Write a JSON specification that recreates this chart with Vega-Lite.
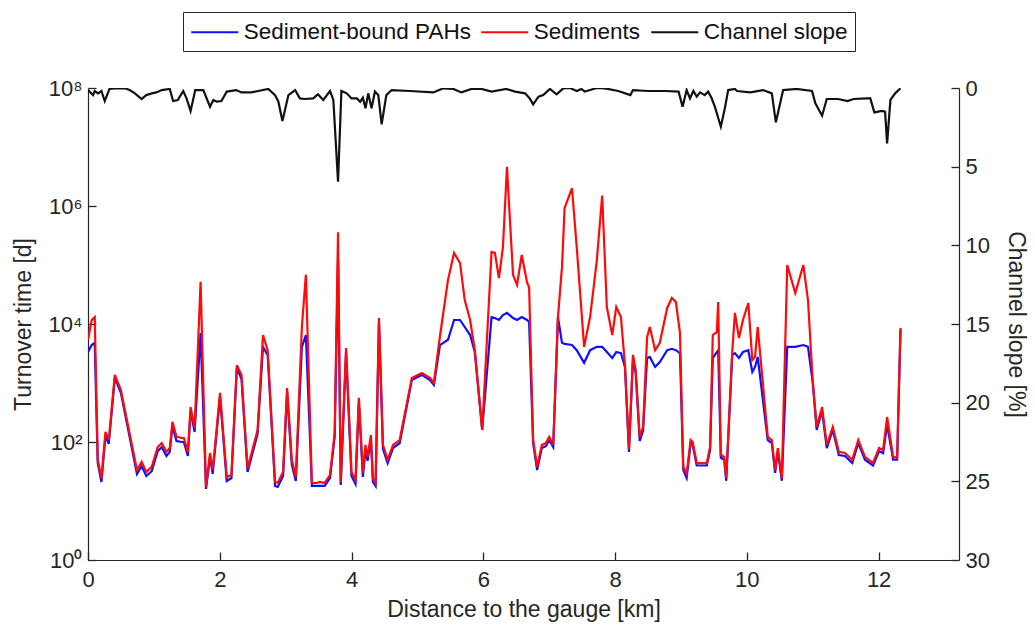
{
  "$schema": "https://vega.github.io/schema/vega-lite/v6.json",
  "width": 871,
  "height": 472,
  "autosize": {"type": "none"},
  "padding": {"left": 88, "top": 88, "right": 76, "bottom": 73},
  "background": "white",
  "config": {
    "font": "Liberation Sans",
    "view": {"stroke": null},
    "axis": {"domainColor": "#262626", "tickColor": "#262626", "labelColor": "#262626", "titleColor": "#262626", "grid": false, "labelFont": "Liberation Sans", "titleFont": "Liberation Sans", "titleFontWeight": "normal", "tickWidth": 1.3}
  },
  "datasets": {
    "turnover": [
      {"x": 0, "pah": 3350, "sed": 5400},
      {"x": 0.056, "pah": 4400, "sed": 11700},
      {"x": 0.102, "pah": 4800, "sed": 13100},
      {"x": 0.148, "pah": 44, "sed": 50},
      {"x": 0.204, "pah": 21, "sed": 24.5},
      {"x": 0.265, "pah": 126, "sed": 148},
      {"x": 0.315, "pah": 93, "sed": 108},
      {"x": 0.407, "pah": 1220, "sed": 1370},
      {"x": 0.499, "pah": 680, "sed": 760},
      {"x": 0.743, "pah": 28.7, "sed": 33.5},
      {"x": 0.814, "pah": 39, "sed": 46},
      {"x": 0.885, "pah": 26.5, "sed": 31},
      {"x": 0.967, "pah": 32, "sed": 38},
      {"x": 1.058, "pah": 70, "sed": 82},
      {"x": 1.119, "pah": 82, "sed": 96},
      {"x": 1.190, "pah": 58, "sed": 68},
      {"x": 1.241, "pah": 68, "sed": 79},
      {"x": 1.282, "pah": 187, "sed": 220},
      {"x": 1.343, "pah": 104, "sed": 122},
      {"x": 1.425, "pah": 100, "sed": 117},
      {"x": 1.455, "pah": 100, "sed": 117},
      {"x": 1.516, "pah": 58, "sed": 68},
      {"x": 1.557, "pah": 335, "sed": 390},
      {"x": 1.618, "pah": 148, "sed": 173},
      {"x": 1.709, "pah": 7000, "sed": 52000},
      {"x": 1.791, "pah": 16, "sed": 17.3},
      {"x": 1.852, "pah": 56, "sed": 65},
      {"x": 1.893, "pah": 28.7, "sed": 33.5},
      {"x": 2.004, "pah": 580, "sed": 680},
      {"x": 2.106, "pah": 21.8, "sed": 25.5},
      {"x": 2.177, "pah": 24.5, "sed": 27.6},
      {"x": 2.259, "pah": 1800, "sed": 2000},
      {"x": 2.330, "pah": 1170, "sed": 1370},
      {"x": 2.422, "pah": 31, "sed": 36},
      {"x": 2.574, "pah": 137, "sed": 160},
      {"x": 2.656, "pah": 4100, "sed": 6500},
      {"x": 2.727, "pah": 3000, "sed": 3600},
      {"x": 2.839, "pah": 18, "sed": 21},
      {"x": 2.880, "pah": 17.3, "sed": 20.2},
      {"x": 2.961, "pah": 26.5, "sed": 31},
      {"x": 3.022, "pah": 700, "sed": 820},
      {"x": 3.093, "pah": 42, "sed": 50},
      {"x": 3.154, "pah": 21.8, "sed": 25.5},
      {"x": 3.246, "pah": 4100, "sed": 8900},
      {"x": 3.307, "pah": 6500, "sed": 68000},
      {"x": 3.398, "pah": 18, "sed": 20.2},
      {"x": 3.470, "pah": 18, "sed": 20.2},
      {"x": 3.521, "pah": 18, "sed": 21},
      {"x": 3.592, "pah": 18, "sed": 20.2},
      {"x": 3.673, "pah": 24.5, "sed": 27.6},
      {"x": 3.744, "pah": 122, "sed": 142},
      {"x": 3.795, "pah": 120000, "sed": 360000},
      {"x": 3.836, "pah": 18.7, "sed": 21},
      {"x": 3.917, "pah": 3350, "sed": 3900},
      {"x": 3.999, "pah": 26.5, "sed": 31},
      {"x": 4.060, "pah": 19.4, "sed": 22.7},
      {"x": 4.111, "pah": 476, "sed": 560},
      {"x": 4.172, "pah": 25.5, "sed": 30},
      {"x": 4.212, "pah": 76, "sed": 89},
      {"x": 4.243, "pah": 48, "sed": 56},
      {"x": 4.294, "pah": 112, "sed": 131},
      {"x": 4.324, "pah": 21, "sed": 24.5},
      {"x": 4.365, "pah": 18, "sed": 20.2},
      {"x": 4.416, "pah": 10800, "sed": 12600},
      {"x": 4.477, "pah": 76, "sed": 89},
      {"x": 4.548, "pah": 44, "sed": 50},
      {"x": 4.630, "pah": 79, "sed": 89},
      {"x": 4.731, "pah": 96, "sed": 108},
      {"x": 4.915, "pah": 1120, "sed": 1220},
      {"x": 5.067, "pah": 1370, "sed": 1480},
      {"x": 5.189, "pah": 1120, "sed": 1220},
      {"x": 5.250, "pah": 925, "sed": 1000},
      {"x": 5.342, "pah": 4400, "sed": 6200},
      {"x": 5.464, "pah": 5400, "sed": 56000},
      {"x": 5.556, "pah": 11700, "sed": 160000},
      {"x": 5.647, "pah": 11700, "sed": 108000},
      {"x": 5.718, "pah": 8900, "sed": 25500},
      {"x": 5.800, "pah": 6500, "sed": 11700},
      {"x": 5.871, "pah": 3350, "sed": 3600},
      {"x": 5.983, "pah": 160, "sed": 160},
      {"x": 6.125, "pah": 13100, "sed": 166000},
      {"x": 6.176, "pah": 12600, "sed": 160000},
      {"x": 6.237, "pah": 11700, "sed": 60000},
      {"x": 6.298, "pah": 14200, "sed": 200000},
      {"x": 6.359, "pah": 15400, "sed": 4600000},
      {"x": 6.451, "pah": 12600, "sed": 68000},
      {"x": 6.512, "pah": 11700, "sed": 46000},
      {"x": 6.583, "pah": 13100, "sed": 148000},
      {"x": 6.665, "pah": 11700, "sed": 50000},
      {"x": 6.695, "pah": 10800, "sed": 42000},
      {"x": 6.756, "pah": 96, "sed": 108},
      {"x": 6.817, "pah": 33.5, "sed": 38},
      {"x": 6.888, "pah": 79, "sed": 89},
      {"x": 6.950, "pah": 85, "sed": 96},
      {"x": 7.000, "pah": 108, "sed": 122},
      {"x": 7.061, "pah": 82, "sed": 89},
      {"x": 7.133, "pah": 13100, "sed": 13100},
      {"x": 7.194, "pah": 4800, "sed": 92000},
      {"x": 7.234, "pah": 4600, "sed": 930000},
      {"x": 7.346, "pah": 4400, "sed": 2000000},
      {"x": 7.418, "pah": 3600, "sed": 200000},
      {"x": 7.530, "pah": 2200, "sed": 4100},
      {"x": 7.621, "pah": 3600, "sed": 13100},
      {"x": 7.723, "pah": 4100, "sed": 120000},
      {"x": 7.804, "pah": 4100, "sed": 1500000},
      {"x": 7.875, "pah": 3350, "sed": 19400},
      {"x": 7.957, "pah": 2650, "sed": 6500},
      {"x": 8.018, "pah": 3350, "sed": 19400},
      {"x": 8.089, "pah": 3200, "sed": 13100},
      {"x": 8.150, "pah": 1870, "sed": 2000},
      {"x": 8.211, "pah": 68, "sed": 76},
      {"x": 8.272, "pah": 2650, "sed": 3000},
      {"x": 8.313, "pah": 1480, "sed": 1660},
      {"x": 8.374, "pah": 104, "sed": 122},
      {"x": 8.425, "pah": 155, "sed": 180},
      {"x": 8.486, "pah": 2650, "sed": 6000},
      {"x": 8.527, "pah": 2760, "sed": 8900},
      {"x": 8.608, "pah": 1870, "sed": 3600},
      {"x": 8.679, "pah": 2270, "sed": 4800},
      {"x": 8.791, "pah": 3600, "sed": 18700},
      {"x": 8.862, "pah": 3800, "sed": 27600},
      {"x": 8.923, "pah": 3600, "sed": 23600},
      {"x": 8.985, "pah": 3200, "sed": 7000},
      {"x": 9.035, "pah": 33.5, "sed": 38},
      {"x": 9.086, "pah": 24.5, "sed": 29},
      {"x": 9.147, "pah": 96, "sed": 108},
      {"x": 9.178, "pah": 89, "sed": 100},
      {"x": 9.239, "pah": 40, "sed": 44},
      {"x": 9.392, "pah": 40, "sed": 44},
      {"x": 9.442, "pah": 73, "sed": 82},
      {"x": 9.483, "pah": 2650, "sed": 6500},
      {"x": 9.544, "pah": 3350, "sed": 7300},
      {"x": 9.565, "pah": 3600, "sed": 23600},
      {"x": 9.605, "pah": 54, "sed": 60},
      {"x": 9.656, "pah": 50, "sed": 56},
      {"x": 9.687, "pah": 22, "sed": 24.5},
      {"x": 9.778, "pah": 3000, "sed": 3350},
      {"x": 9.819, "pah": 3200, "sed": 15400},
      {"x": 9.880, "pah": 2650, "sed": 5800},
      {"x": 9.941, "pah": 3350, "sed": 11700},
      {"x": 10.022, "pah": 3600, "sed": 22700},
      {"x": 10.083, "pah": 1540, "sed": 2450},
      {"x": 10.124, "pah": 1870, "sed": 2760},
      {"x": 10.165, "pah": 2760, "sed": 8900},
      {"x": 10.317, "pah": 108, "sed": 122},
      {"x": 10.379, "pah": 96, "sed": 108},
      {"x": 10.429, "pah": 30, "sed": 33.5},
      {"x": 10.470, "pah": 70, "sed": 79},
      {"x": 10.531, "pah": 22, "sed": 24.5},
      {"x": 10.613, "pah": 4100, "sed": 100000},
      {"x": 10.735, "pah": 4100, "sed": 33500},
      {"x": 10.857, "pah": 4400, "sed": 100000},
      {"x": 10.928, "pah": 4100, "sed": 25500},
      {"x": 10.999, "pah": 1040, "sed": 1120},
      {"x": 11.060, "pah": 160, "sed": 180},
      {"x": 11.142, "pah": 335, "sed": 390},
      {"x": 11.213, "pah": 79, "sed": 89},
      {"x": 11.304, "pah": 160, "sed": 180},
      {"x": 11.396, "pah": 60, "sed": 68},
      {"x": 11.488, "pah": 58, "sed": 65},
      {"x": 11.600, "pah": 44, "sed": 50},
      {"x": 11.691, "pah": 96, "sed": 108},
      {"x": 11.793, "pah": 50, "sed": 56},
      {"x": 11.915, "pah": 40, "sed": 44},
      {"x": 12.007, "pah": 70, "sed": 79},
      {"x": 12.068, "pah": 65, "sed": 73},
      {"x": 12.129, "pah": 195, "sed": 265},
      {"x": 12.220, "pah": 50, "sed": 56},
      {"x": 12.281, "pah": 50, "sed": 54},
      {"x": 12.332, "pah": 8000, "sed": 8600}
    ],
    "slope": [
      {"x": 0, "slope": 0.13}, {"x": 0.076, "slope": 0.45}, {"x": 0.102, "slope": 0.19}, {"x": 0.153, "slope": 0.34},
      {"x": 0.204, "slope": 0.19}, {"x": 0.254, "slope": 0.83}, {"x": 0.326, "slope": 0.06}, {"x": 0.407, "slope": 0.02},
      {"x": 0.560, "slope": 0.02}, {"x": 0.631, "slope": 0.13}, {"x": 0.712, "slope": 0.34}, {"x": 0.814, "slope": 0.70},
      {"x": 0.885, "slope": 0.45}, {"x": 0.967, "slope": 0.34}, {"x": 1.038, "slope": 0.28}, {"x": 1.119, "slope": 0.13},
      {"x": 1.241, "slope": 0.06}, {"x": 1.292, "slope": 0.83}, {"x": 1.363, "slope": 0.76}, {"x": 1.445, "slope": 0.19},
      {"x": 1.496, "slope": 0.66}, {"x": 1.557, "slope": 1.46}, {"x": 1.628, "slope": 0.13}, {"x": 1.750, "slope": 0.13},
      {"x": 1.852, "slope": 1.19}, {"x": 1.903, "slope": 0.76}, {"x": 1.954, "slope": 0.87}, {"x": 2.025, "slope": 0.83},
      {"x": 2.106, "slope": 0.23}, {"x": 2.249, "slope": 0.13}, {"x": 2.330, "slope": 0.28}, {"x": 2.483, "slope": 0.28},
      {"x": 2.584, "slope": 0.19}, {"x": 2.737, "slope": 0.06}, {"x": 2.839, "slope": 0.45}, {"x": 2.890, "slope": 0.87},
      {"x": 2.951, "slope": 2.1}, {"x": 3.042, "slope": 0.45}, {"x": 3.144, "slope": 0.13}, {"x": 3.215, "slope": 0.66},
      {"x": 3.287, "slope": 0.70}, {"x": 3.419, "slope": 0.66}, {"x": 3.490, "slope": 0.40}, {"x": 3.571, "slope": 0.76},
      {"x": 3.673, "slope": 0.19}, {"x": 3.724, "slope": 0.76}, {"x": 3.795, "slope": 5.96}, {"x": 3.846, "slope": 0.19},
      {"x": 3.928, "slope": 0.34}, {"x": 3.999, "slope": 0.66}, {"x": 4.080, "slope": 0.66}, {"x": 4.131, "slope": 0.87},
      {"x": 4.172, "slope": 0.62}, {"x": 4.212, "slope": 1.29}, {"x": 4.253, "slope": 0.34}, {"x": 4.304, "slope": 1.29},
      {"x": 4.355, "slope": 0.23}, {"x": 4.406, "slope": 0.45}, {"x": 4.457, "slope": 2.31}, {"x": 4.528, "slope": 0.45},
      {"x": 4.609, "slope": 0.13}, {"x": 4.884, "slope": 0.19}, {"x": 5.240, "slope": 0.28}, {"x": 5.393, "slope": 0.02},
      {"x": 5.545, "slope": 0.06}, {"x": 5.667, "slope": 0.28}, {"x": 5.820, "slope": 0.06}, {"x": 5.973, "slope": 0.06},
      {"x": 6.125, "slope": 0.23}, {"x": 6.349, "slope": 0.06}, {"x": 6.481, "slope": 0.23}, {"x": 6.634, "slope": 0.34},
      {"x": 6.705, "slope": 0.66}, {"x": 6.756, "slope": 1.04}, {"x": 6.838, "slope": 0.55}, {"x": 6.909, "slope": 0.45},
      {"x": 7.011, "slope": 0.06}, {"x": 7.112, "slope": 0.40}, {"x": 7.214, "slope": 0.02}, {"x": 7.316, "slope": 0.0},
      {"x": 7.418, "slope": 0.19}, {"x": 7.489, "slope": 0.06}, {"x": 7.540, "slope": 0.23}, {"x": 7.621, "slope": 0.13},
      {"x": 7.723, "slope": 0.0}, {"x": 7.845, "slope": 0.02}, {"x": 8.048, "slope": 0.19}, {"x": 8.232, "slope": 0.45},
      {"x": 8.272, "slope": 0.13}, {"x": 8.506, "slope": 0.19}, {"x": 8.761, "slope": 0.19}, {"x": 8.964, "slope": 0.23},
      {"x": 9.025, "slope": 1.19}, {"x": 9.086, "slope": 0.13}, {"x": 9.137, "slope": 0.66}, {"x": 9.188, "slope": 0.19},
      {"x": 9.239, "slope": 0.55}, {"x": 9.290, "slope": 0.28}, {"x": 9.361, "slope": 0.45}, {"x": 9.412, "slope": 0.23},
      {"x": 9.463, "slope": 0.62}, {"x": 9.514, "slope": 1.19}, {"x": 9.605, "slope": 2.46}, {"x": 9.666, "slope": 1.29},
      {"x": 9.717, "slope": 0.13}, {"x": 9.819, "slope": 0.06}, {"x": 9.850, "slope": 0.19}, {"x": 10.053, "slope": 0.28},
      {"x": 10.246, "slope": 0.13}, {"x": 10.379, "slope": 0.34}, {"x": 10.440, "slope": 2.18}, {"x": 10.551, "slope": 0.13},
      {"x": 10.755, "slope": 0.06}, {"x": 10.989, "slope": 0.19}, {"x": 11.040, "slope": 0.97}, {"x": 11.142, "slope": 1.76},
      {"x": 11.213, "slope": 0.70}, {"x": 11.386, "slope": 0.70}, {"x": 11.528, "slope": 0.83}, {"x": 11.620, "slope": 0.70},
      {"x": 11.823, "slope": 0.66}, {"x": 11.874, "slope": 0.66}, {"x": 11.935, "slope": 1.55}, {"x": 12.047, "slope": 1.46},
      {"x": 12.098, "slope": 1.51}, {"x": 12.129, "slope": 3.52}, {"x": 12.179, "slope": 0.76}, {"x": 12.251, "slope": 0.34},
      {"x": 12.332, "slope": 0.02}
    ]
  },
  "layer": [
    {
      "layer": [
        {
          "data": {"name": "turnover"},
          "mark": {"type": "line", "strokeWidth": 2.2, "clip": true},
          "encoding": {
            "x": {"field": "x", "type": "quantitative", "scale": {"domain": [0, 13.22], "nice": false, "zero": false},
              "axis": {"values": [0, 2, 4, 6, 8, 10, 12], "format": "d", "title": "Distance to the gauge [km]", "titleFontSize": 23, "labelFontSize": 22, "tickSize": -8, "labelPadding": 17, "titlePadding": 8, "labelFlush": false, "domainWidth": 1.2}},
            "y": {"field": "pah", "type": "quantitative", "scale": {"type": "log", "domain": [1, 100000000], "nice": false},
              "axis": {"values": [1, 100, 10000, 1000000, 100000000], "labelExpr": "'10' + (datum.value < 10 ? '⁰' : datum.value < 1000 ? '²' : datum.value < 100000 ? '⁴' : datum.value < 10000000 ? '⁶' : '⁸')", "title": "Turnover time [d]", "titleFontSize": 23, "labelFontSize": 22, "tickSize": -8, "labelPadding": 14, "titlePadding": 13, "labelFlush": false, "domainWidth": 1.2}},
            "color": {"datum": "Sediment-bound PAHs", "type": "nominal",
              "scale": {"domain": ["Sediment-bound PAHs", "Sediments", "Channel slope"], "range": ["#1010ff", "#ff0a0a", "#111111"]},
              "legend": {"orient": "none", "legendX": 95, "legendY": -76, "direction": "horizontal", "title": null, "symbolType": "M-2,0H2", "symbolSize": 552, "symbolOffset": 11.75, "symbolStrokeWidth": 2, "labelFontSize": 22.5, "labelLimit": 400, "labelOffset": 16, "columnPadding": 6, "strokeColor": "#262626", "padding": 7, "fillColor": "white", "labelColor": "#111111", "labelFont": "Liberation Sans"}}
          }
        },
        {
          "data": {"name": "turnover"},
          "mark": {"type": "line", "strokeWidth": 2.2, "clip": true},
          "encoding": {
            "x": {"field": "x", "type": "quantitative"},
            "y": {"field": "sed", "type": "quantitative"},
            "color": {"datum": "Sediments", "type": "nominal"}
          }
        }
      ]
    },
    {
      "data": {"name": "slope"},
      "mark": {"type": "line", "strokeWidth": 2.2, "clip": true},
      "encoding": {
        "x": {"field": "x", "type": "quantitative"},
        "y": {"field": "slope", "type": "quantitative", "scale": {"domain": [0, 30], "reverse": true, "nice": false, "zero": false},
          "axis": {"orient": "right", "values": [0, 5, 10, 15, 20, 25, 30], "title": "Channel slope [%]", "titleFontSize": 23, "labelFontSize": 22, "tickSize": -8, "labelPadding": 14, "titlePadding": 14, "labelFlush": false, "domainWidth": 1.2}},
        "color": {"datum": "Channel slope", "type": "nominal"}
      }
    }
  ],
  "resolve": {"scale": {"y": "independent"}}
}
